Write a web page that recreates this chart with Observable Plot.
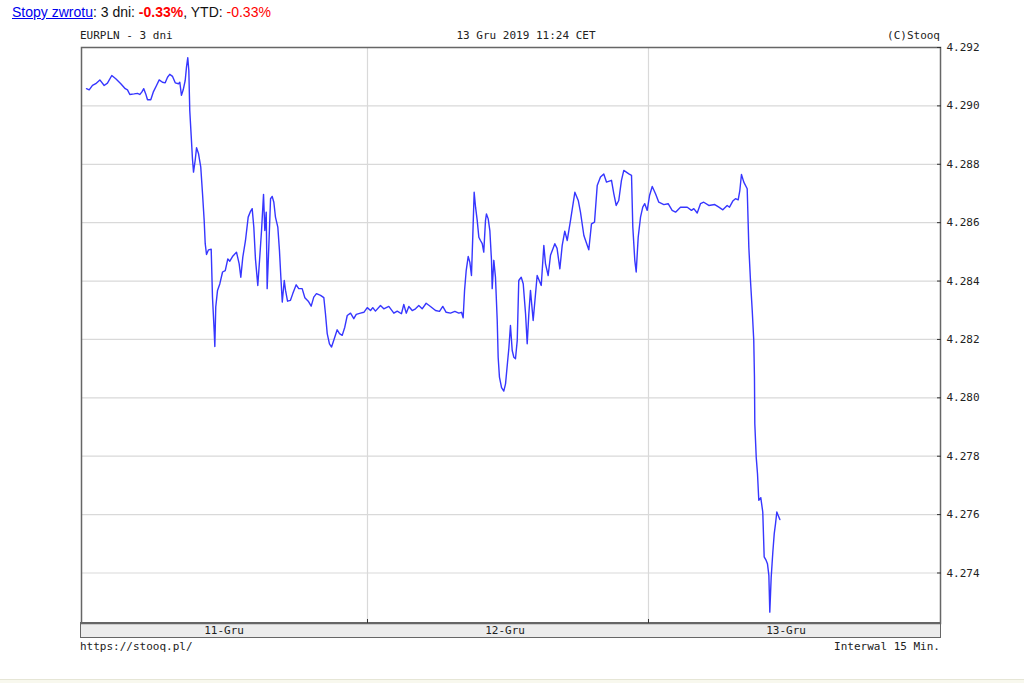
<!DOCTYPE html>
<html><head><meta charset="utf-8">
<script src="https://cdn.jsdelivr.net/npm/d3@7"></script>
<script src="https://cdn.jsdelivr.net/npm/@observablehq/plot@0.6"></script>
<style>
html,body{margin:0;padding:0;background:#fff;}
#wrap{position:relative;width:1024px;height:683px;overflow:hidden;background:#fff;}
.mono{position:absolute;font-family:"DejaVu Sans Mono",monospace;font-size:11px;line-height:11px;color:#222;white-space:pre;}
#hdr{position:absolute;left:12px;top:5px;font-family:"Liberation Sans",Arial,sans-serif;font-size:14px;line-height:14px;color:#111;white-space:pre;}
#hdr a{color:#0000ee;text-decoration:underline;}
#hdr .r{color:#ff0000;}
#band{position:absolute;left:80px;top:622px;width:861px;height:16px;box-sizing:border-box;border:1.5px solid #666;background:#ececec;}
#chart{position:absolute;left:0;top:0;}
#foot{position:absolute;left:0;top:679px;width:1024px;height:4px;background:#f8f8ee;border-top:1px solid #e6e6d6;}
</style></head>
<body><div id="wrap">
<div id="hdr"><a>Stopy zwrotu</a>: 3 dni: <b class="r">-0.33%</b>, YTD: <span class="r">-0.33%</span></div>
<div class="mono" style="left:80px;top:30px;">EURPLN - 3 dni</div>
<div class="mono" style="left:0;width:1052px;text-align:center;top:30px;">13 Gru 2019 11:24 CET</div>
<div class="mono" style="right:84px;top:30px;">(C)Stooq</div>
<div id="band"></div>
<div class="mono" style="left:80px;top:641px;">https://stooq.pl/</div>
<div class="mono" style="right:84px;top:641px;">Interwal 15 Min.</div>
<div id="foot"></div>
<div id="chart"></div>
</div>
<script>
// hours since 11 Dec 2019 00:00 CET (15-min quotes)
const hours = [
0.00,0.23,0.51,0.79,1.14,1.51,1.79,2.16,2.50,2.93,3.31,3.50,3.70,4.07,4.36,4.55,4.72,4.89,5.06,5.21,
5.49,5.70,5.98,6.21,6.49,6.72,6.92,7.11,7.35,7.58,7.86,7.97,8.11,8.26,8.43,8.54,8.65,8.74,8.82,8.94,
9.05,9.14,9.28,9.40,9.57,9.76,9.91,10.05,10.14,10.25,10.42,10.65,10.76,10.91,10.96,11.04,11.19,11.39,11.62,11.85,
12.07,12.24,12.47,12.81,13.04,13.18,
13.35,13.58,13.81,14.01,14.15,14.29,14.43,14.63,14.78,14.95,15.12,15.23,15.35,15.43,15.57,15.72,15.86,16.00,16.14,16.34,
16.48,16.60,16.72,16.89,17.00,17.17,17.42,17.62,17.91,18.13,18.42,18.65,18.94,19.19,19.41,19.64,19.99,20.27,20.41,20.56,
20.75,20.93,21.12,21.41,21.61,21.84,22.06,22.27,22.55,22.83,23.04,23.40,23.69,23.98,24.26,24.45,24.68,25.11,
25.39,25.82,26.25,26.54,26.90,27.10,27.31,27.53,27.82,28.10,28.38,28.67,29.01,29.38,29.81,30.15,30.43,30.72,31.09,31.46,
31.80,32.03,32.17,32.29,32.43,32.60,32.74,32.88,32.99,33.11,33.23,33.37,33.51,33.65,33.80,33.93,34.08,34.16,34.31,34.45,
34.59,34.65,34.79,34.93,35.08,35.16,35.27,35.45,35.64,35.79,35.96,36.07,36.21,36.36,36.50,36.64,36.79,36.92,37.13,37.30,
37.50,37.64,37.78,37.92,38.15,38.49,38.84,39.06,39.20,39.43,39.63,40.00,40.19,40.43,40.63,40.85,41.06,41.34,41.71,42.00,
42.19,42.48,42.90,43.13,43.39,43.62,43.90,44.18,44.41,44.84,45.04,45.24,45.46,45.69,45.89,46.32,46.55,46.66,46.83,46.95,
47.12,47.32,47.51,47.68,47.89,48.09,48.32,48.60,48.88,49.31,49.68,50.02,50.31,50.73,51.31,51.67,51.87,52.16,52.44,52.72,
53.15,53.66,54.01,54.35,54.72,54.92,55.20,55.43,55.66,55.80,55.94,56.14,56.43,56.57,56.71,56.86,56.99,57.05,57.08,57.20,
57.31,57.42,57.59,57.76,57.88,58.05,58.16,58.28,58.36,58.48,58.62,58.74,58.85,58.96,59.08,59.22
];
const prices = [
4.29059,4.29055,4.29070,4.29076,4.29089,4.29070,4.29078,4.29104,4.29093,4.29076,4.29059,4.29055,4.29039,4.29041,4.29043,4.29039,4.29047,4.29059,4.29041,4.29021,
4.29021,4.29047,4.29070,4.29089,4.29081,4.29079,4.29098,4.29108,4.29101,4.29079,4.29076,4.29081,4.29036,4.29055,4.29087,4.29133,4.29165,4.29121,4.28984,4.28899,
4.28819,4.28773,4.28813,4.28857,4.28836,4.28790,4.28699,4.28608,4.28528,4.28491,4.28507,4.28509,4.28345,4.28225,4.28176,4.28311,4.28368,4.28391,4.28431,4.28436,
4.28476,4.28468,4.28484,4.28499,4.28459,4.28413,
4.28482,4.28539,4.28619,4.28639,4.28648,4.28585,4.28476,4.28385,4.28471,4.28573,4.28697,4.28573,4.28636,4.28374,4.28516,4.28682,4.28690,4.28670,4.28619,4.28585,
4.28505,4.28413,4.28328,4.28402,4.28368,4.28331,4.28334,4.28357,4.28387,4.28374,4.28374,4.28343,4.28331,4.28314,4.28345,4.28357,4.28351,4.28343,4.28288,4.28220,
4.28185,4.28174,4.28197,4.28233,4.28220,4.28214,4.28242,4.28282,4.28290,4.28271,4.28286,4.28290,4.28293,4.28309,4.28299,4.28309,4.28297,4.28316,
4.28305,4.28313,4.28290,4.28297,4.28288,4.28320,4.28290,4.28313,4.28299,4.28305,4.28316,4.28305,4.28324,4.28313,4.28299,4.28296,4.28313,4.28293,4.28290,4.28296,
4.28290,4.28293,4.28274,4.28368,4.28436,4.28484,4.28465,4.28419,4.28550,4.28704,4.28653,4.28608,4.28550,4.28539,4.28528,4.28499,4.28608,4.28630,4.28613,4.28573,
4.28471,4.28374,4.28471,4.28413,4.28265,4.28139,4.28071,4.28035,4.28023,4.28048,4.28122,4.28168,4.28248,4.28162,4.28139,4.28134,4.28197,4.28402,4.28413,4.28391,
4.28288,4.28185,4.28288,4.28368,4.28265,4.28419,4.28385,4.28522,4.28460,4.28419,4.28488,4.28528,4.28512,4.28442,4.28522,4.28571,4.28539,4.28608,4.28704,4.28676,
4.28636,4.28556,4.28507,4.28596,4.28602,4.28727,4.28756,4.28767,4.28739,4.28745,4.28699,4.28659,4.28676,4.28745,4.28779,4.28767,4.28762,4.28585,4.28471,4.28431,
4.28550,4.28619,4.28653,4.28665,4.28642,4.28693,4.28724,4.28699,4.28670,4.28662,4.28665,4.28642,4.28636,4.28653,4.28653,4.28642,4.28648,4.28633,4.28665,4.28670,
4.28659,4.28662,4.28653,4.28644,4.28659,4.28653,4.28674,4.28682,4.28678,4.28710,4.28765,4.28739,4.28716,4.28516,4.28402,4.28299,4.28197,4.28071,4.27911,4.27797,
4.27740,4.27649,4.27658,4.27609,4.27455,4.27443,4.27432,4.27392,4.27266,4.27386,4.27472,4.27535,4.27569,4.27609,4.27597,4.27583
];
const yTicks = [4.274, 4.276, 4.278, 4.280, 4.282, 4.284, 4.286, 4.288, 4.290, 4.292];
const dayBoundaries = [24, 48];
const dayLabelHours = [11.75, 35.75, 59.75];
const dayLabels = ["11-Gru", "12-Gru", "13-Gru"];

const data = hours.map((h, i) => ({h, v: prices[i]}));

const chart = Plot.plot({
  width: 1024,
  height: 683,
  marginLeft: 81,
  marginRight: 84,
  marginTop: 47,
  marginBottom: 60,
  x: {domain: [-0.427, 72.94]},
  y: {domain: [4.27227, 4.292]},
  style: {fontFamily: "DejaVu Sans Mono, monospace", fontSize: "11px", background: "transparent", overflow: "visible", color: "#222"},
  marks: [
    Plot.gridY(yTicks, {stroke: "#d9d9d9", strokeOpacity: 1, strokeWidth: 1.2}),
    Plot.gridX(dayBoundaries, {stroke: "#d9d9d9", strokeOpacity: 1, strokeWidth: 1.2}),
    Plot.line(data, {x: "h", y: "v", stroke: "#3636ff", strokeWidth: 1.4}),
    Plot.frame({stroke: "#666", strokeWidth: 1.5}),
    Plot.axisX(dayBoundaries, {anchor: "bottom", tickSize: 4, dy: -4, fill: "none", stroke: "#333", label: null}),
    Plot.axisX(dayLabelHours, {anchor: "bottom", tickSize: 0, tickPadding: 3, tickFormat: d => dayLabels[dayLabelHours.indexOf(d)], fill: "#222", label: null}),
    Plot.axisY(yTicks, {anchor: "right", tickSize: 4, dx: -4, fill: "none", stroke: "#333", label: null}),
    Plot.axisY(yTicks, {anchor: "right", tickSize: 0, tickPadding: 6, tickFormat: d3.format(".3f"), fill: "#222", label: null})
  ]
});
document.getElementById("chart").appendChild(chart);
</script>
</body></html>
